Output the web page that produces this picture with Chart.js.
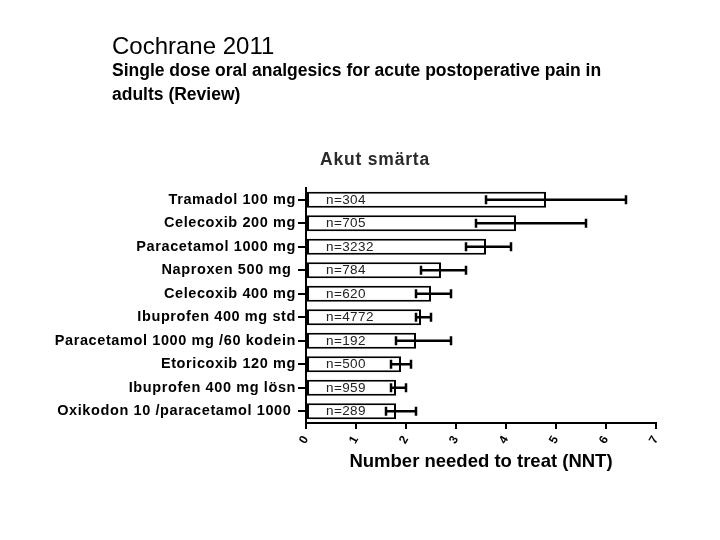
<!DOCTYPE html>
<html>
<head>
<meta charset="utf-8">
<script src="https://cdn.jsdelivr.net/npm/chart.js@4/dist/chart.umd.min.js"></script>
<style>
  html, body { margin: 0; padding: 0; background: #fff; }
  #wrap { position: relative; width: 720px; height: 540px; }
  #c { position: absolute; left: 0; top: 0; }
  .hdr { position: absolute; font-family: "Liberation Sans", Arial, sans-serif; color: #000; white-space: nowrap; }
  #h1 { left: 112px; top: 34px; font-size: 24px; line-height: 24px; }
  #h2 { left: 112px; top: 58px; font-size: 17.5px; line-height: 24px; font-weight: bold; }
</style>
</head>
<body>
<div id="wrap">
  <canvas id="c" width="720" height="540"></canvas>
  <div class="hdr" id="h1">Cochrane 2011</div>
  <div class="hdr" id="h2">Single dose oral analgesics for acute postoperative pain in<br>adults (Review)</div>
</div>
<script>
const chartTitle = 'Akut smärta';
const axisTitle = 'Number needed to treat (NNT)';
const categories = [
  'Tramadol 100 mg',
  'Celecoxib 200 mg',
  'Paracetamol 1000 mg',
  'Naproxen 500 mg ',
  'Celecoxib 400 mg',
  'Ibuprofen 400 mg std',
  'Paracetamol 1000 mg /60 kodein',
  'Etoricoxib 120 mg',
  'Ibuprofen 400 mg lösn',
  'Oxikodon 10 /paracetamol 1000 '
];
const nntValues = [4.8, 4.2, 3.6, 2.7, 2.5, 2.3, 2.2, 1.9, 1.8, 1.8];
const ciLow     = [3.6, 3.4, 3.2, 2.3, 2.2, 2.2, 1.8, 1.7, 1.7, 1.6];
const ciHigh    = [6.4, 5.6, 4.1, 3.2, 2.9, 2.5, 2.9, 2.1, 2.0, 2.2];
const participants = ['n=304', 'n=705', 'n=3232', 'n=784', 'n=620', 'n=4772', 'n=192', 'n=500', 'n=959', 'n=289'];
const xTickValues = [0, 1, 2, 3, 4, 5, 6, 7];

const FONT = '"Liberation Sans", Arial, sans-serif';

const extrasPlugin = {
  id: 'extras',
  beforeDraw(chart) {
    chart.ctx.letterSpacing = '0.6px';
  },
  afterDatasetsDraw(chart) {
    const ctx = chart.ctx;
    const xs = chart.scales.x, ys = chart.scales.y;
    ctx.save();
    // error bars
    ctx.strokeStyle = '#000';
    ctx.lineWidth = 2.5;
    for (let i = 0; i < nntValues.length; i++) {
      const y = ys.getPixelForValue(i);
      const x1 = xs.getPixelForValue(ciLow[i]);
      const x2 = xs.getPixelForValue(ciHigh[i]);
      ctx.beginPath();
      ctx.moveTo(x1, y); ctx.lineTo(x2, y);
      ctx.moveTo(x1, y - 4.5); ctx.lineTo(x1, y + 4.5);
      ctx.moveTo(x2, y - 4.5); ctx.lineTo(x2, y + 4.5);
      ctx.stroke();
    }
    // participant labels
    ctx.letterSpacing = '0.4px';
    ctx.font = '13.5px ' + FONT;
    ctx.fillStyle = '#222';
    ctx.textAlign = 'left';
    ctx.textBaseline = 'middle';
    for (let i = 0; i < participants.length; i++) {
      const y = ys.getPixelForValue(i);
      ctx.fillText(participants[i], xs.getPixelForValue(0) + 20, y + 0.5);
    }
    ctx.restore();
  },
  afterDraw(chart) {
    const ctx = chart.ctx;
    const a = chart.chartArea;
    ctx.save();
    ctx.letterSpacing = '0px';
    ctx.fillStyle = '#000';
    ctx.font = 'bold 18.5px ' + FONT;
    ctx.textAlign = 'center';
    ctx.textBaseline = 'alphabetic';
    ctx.fillText(axisTitle, (a.left + a.right) / 2, 467);
    ctx.letterSpacing = '0.8px';
    ctx.fillStyle = '#2a2a2a';
    ctx.font = 'bold 17.5px ' + FONT;
    ctx.fillText(chartTitle, 375, 165);
    ctx.restore();
  }
};

new Chart(document.getElementById('c'), {
  type: 'bar',
  data: {
    labels: categories,
    datasets: [{
      data: nntValues,
      backgroundColor: '#fff',
      borderColor: '#000',
      borderWidth: 2,
      borderSkipped: false,
      barPercentage: 0.68,
      categoryPercentage: 1.0
    }]
  },
  options: {
    indexAxis: 'y',
    responsive: false,
    animation: false,
    layout: { padding: { left: 0, top: 188, right: 64, bottom: 77 } },
    plugins: { legend: { display: false }, tooltip: { enabled: false }, title: { display: false } },
    scales: {
      y: {
        grid: { offset: false, drawOnChartArea: false, drawTicks: true, tickLength: 8, color: '#000', lineWidth: 2 },
        border: { display: true, color: '#000', width: 2 },
        ticks: { autoSkip: false, color: '#000', padding: 2, font: { family: FONT, size: 14.5, weight: 'bold' } },
        afterFit(s) { s.width = 306; }
      },
      x: {
        type: 'linear',
        min: 0, max: 7,
        afterBuildTicks(s) { s.ticks = xTickValues.map(v => ({ value: v })); },
        grid: { drawOnChartArea: false, drawTicks: true, tickLength: 6, color: '#000', lineWidth: 2 },
        border: { display: true, color: '#000', width: 2 },
        ticks: { autoSkip: false, minRotation: 60, maxRotation: 60, padding: 4, color: '#000',
                 font: { family: FONT, size: 12, weight: 'bold' } },
        afterFit(s) { s.height = 40; }
      }
    }
  },
  plugins: [extrasPlugin]
});
</script>
</body>
</html>
